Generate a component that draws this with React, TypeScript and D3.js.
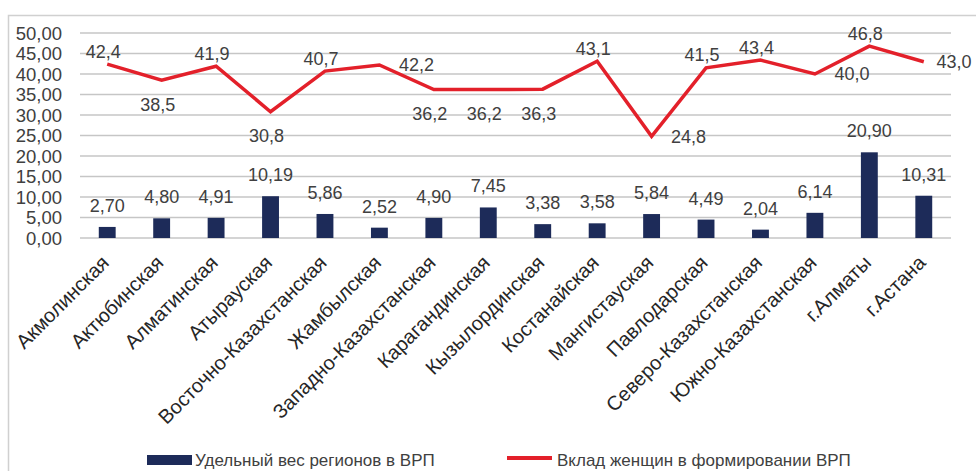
import { useEffect, useRef } from "react";
import * as d3 from "d3";

const regions = [
  "Акмолинская", "Актюбинская", "Алматинская", "Атырауская",
  "Восточно-Казахстанская", "Жамбылская", "Западно-Казахстанская",
  "Карагандинская", "Кызылординская", "Костанайская", "Мангистауская",
  "Павлодарская", "Северо-Казахстанская", "Южно-Казахстанская",
  "г.Алматы", "г.Астана",
];
const grpShare = [2.70, 4.80, 4.91, 10.19, 5.86, 2.52, 4.90, 7.45, 3.38, 3.58, 5.84, 4.49, 2.04, 6.14, 20.90, 10.31];
const womenShare = [42.4, 38.5, 41.9, 30.8, 40.7, 42.2, 36.2, 36.2, 36.3, 43.1, 24.8, 41.5, 43.4, 40.0, 46.8, 43.0];
// where each line label sits relative to its point: t = top, b = bottom, r = right
const lineLabelPos = ["t", "b", "t", "b", "t", "r", "b", "b", "b", "t", "r", "t", "t", "r", "t", "r"];
const yTicks = [0, 5, 10, 15, 20, 25, 30, 35, 40, 45, 50];

const seriesNames = ["Удельный вес регионов в ВРП", "Вклад женщин в формировании ВРП"];

const width = 976;
const height = 471;
const marginLeft = 80;
const plotRight = 951;
const marginTop = 33;
const zeroY = 238;
const font = "Liberation Sans, Arial, sans-serif";

const fmt = (v: number, d: number) => v.toFixed(d).replace(".", ",");

export default function App() {
  const ref = useRef<SVGSVGElement>(null);

  useEffect(() => {
    const svg = d3.select(ref.current);
    svg.selectAll("*").remove();

    const x = d3.scaleBand()
      .domain(regions)
      .range([marginLeft, plotRight])
      .paddingInner(0.69)
      .paddingOuter(0.345);

    const y = d3.scaleLinear()
      .domain([0, 50])
      .range([zeroY, marginTop]);

    const cx = (name: string) => (x(name) as number) + x.bandwidth() / 2;

    // frame
    svg.append("path")
      .attr("d", `M8.5,${height} V15.5 H${width}`)
      .attr("fill", "none")
      .attr("stroke", "#d0d0d0")
      .attr("stroke-width", 1.5);

    // grid lines
    svg.append("g")
      .selectAll("line")
      .data(yTicks)
      .join("line")
      .attr("x1", marginLeft)
      .attr("x2", plotRight)
      .attr("y1", (d) => y(d))
      .attr("y2", (d) => y(d))
      .attr("stroke", "#c6c6c6")
      .attr("stroke-width", 1.5);

    // y tick labels
    svg.append("g")
      .selectAll("text")
      .data(yTicks)
      .join("text")
      .attr("x", 62)
      .attr("y", (d) => y(d))
      .attr("dy", "0.36em")
      .attr("text-anchor", "end")
      .attr("font-family", font)
      .attr("font-size", 18.5)
      .attr("fill", "#404040")
      .text((d) => fmt(d, 2));

    // bars
    svg.append("g")
      .selectAll("rect")
      .data(regions)
      .join("rect")
      .attr("x", (d) => x(d) as number)
      .attr("y", (d, i) => y(grpShare[i]))
      .attr("width", x.bandwidth())
      .attr("height", (d, i) => y(0) - y(grpShare[i]))
      .attr("fill", "#1d2b59");

    // bar labels
    svg.append("g")
      .selectAll("text")
      .data(regions)
      .join("text")
      .attr("x", (d) => cx(d))
      .attr("y", (d, i) => y(grpShare[i]) - 15)
      .attr("text-anchor", "middle")
      .attr("font-family", font)
      .attr("font-size", 18)
      .attr("fill", "#404040")
      .text((d, i) => fmt(grpShare[i], 2));

    // line
    const line = d3.line<number>()
      .x((d, i) => cx(regions[i]))
      .y((d) => y(d));

    svg.append("path")
      .datum(womenShare)
      .attr("d", line)
      .attr("fill", "none")
      .attr("stroke", "#e3202a")
      .attr("stroke-width", 3.5)
      .attr("stroke-linejoin", "miter");

    // line labels
    svg.append("g")
      .selectAll("text")
      .data(womenShare)
      .join("text")
      .attr("x", (d, i) => {
        const px = cx(regions[i]);
        if (lineLabelPos[i] !== "r") return px - 4;
        return Math.min(px + 37, width - 22);
      })
      .attr("y", (d, i) => y(d) + (lineLabelPos[i] === "t" ? -13 : lineLabelPos[i] === "b" ? 24 : 0))
      .attr("dy", "0.36em")
      .attr("text-anchor", "middle")
      .attr("font-family", font)
      .attr("font-size", 18)
      .attr("fill", "#404040")
      .text((d) => fmt(d, 1));

    // category labels
    svg.append("g")
      .selectAll("text")
      .data(regions)
      .join("text")
      .attr("transform", (d) => `translate(${cx(d) + 3},${zeroY + 26}) rotate(-45)`)
      .attr("text-anchor", "end")
      .attr("font-family", font)
      .attr("font-size", 20)
      .attr("fill", "#262626")
      .text((d) => d);

    // legend
    const legend = svg.append("g")
      .attr("font-family", font)
      .attr("font-size", 17)
      .attr("fill", "#404040");

    legend.append("rect")
      .attr("x", 147)
      .attr("y", 455)
      .attr("width", 45)
      .attr("height", 10)
      .attr("fill", "#1d2b59");
    legend.append("text")
      .attr("x", 195)
      .attr("y", 466)
      .text(seriesNames[0]);

    legend.append("line")
      .attr("x1", 507)
      .attr("x2", 552)
      .attr("y1", 458)
      .attr("y2", 458)
      .attr("stroke", "#e3202a")
      .attr("stroke-width", 4);
    legend.append("text")
      .attr("x", 557)
      .attr("y", 466)
      .text(seriesNames[1]);
  }, []);

  return (
    <svg
      ref={ref}
      width={width}
      height={height}
      style={{ position: "absolute", left: 0, top: 0, background: "#fff" }}
    />
  );
}
